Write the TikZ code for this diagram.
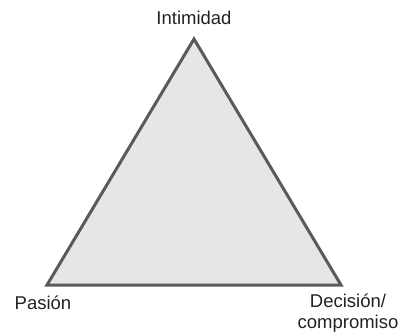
\documentclass[tikz,border=0pt]{standalone}
\usepackage{fontspec}
\setmainfont{Liberation Sans}
\definecolor{edge}{HTML}{5A5A5A}
\definecolor{fillg}{HTML}{E6E6E6}
\definecolor{txt}{HTML}{222222}
\begin{document}
\begin{tikzpicture}[x=1bp,y=-1bp,
  lbl/.style={text=txt,font=\fontsize{18.5bp}{21bp}\selectfont,inner sep=0pt,align=center}]
\useasboundingbox (0,0) rectangle (398,332);
\coordinate (top) at (194,39);
\coordinate (bl) at (47,285);
\coordinate (br) at (341,285);
\draw[edge,fill=fillg,line width=3bp,line join=miter] (top) -- (bl) -- (br) -- cycle;
\node[lbl,anchor=base] (int) at (194,24) {Intimidad};
\node[lbl,anchor=base] (pas) at (43,309) {Pasión};
\node[lbl,anchor=base] (dec) at (348,328) {Decisión/\\compromiso};
\end{tikzpicture}
\end{document}
